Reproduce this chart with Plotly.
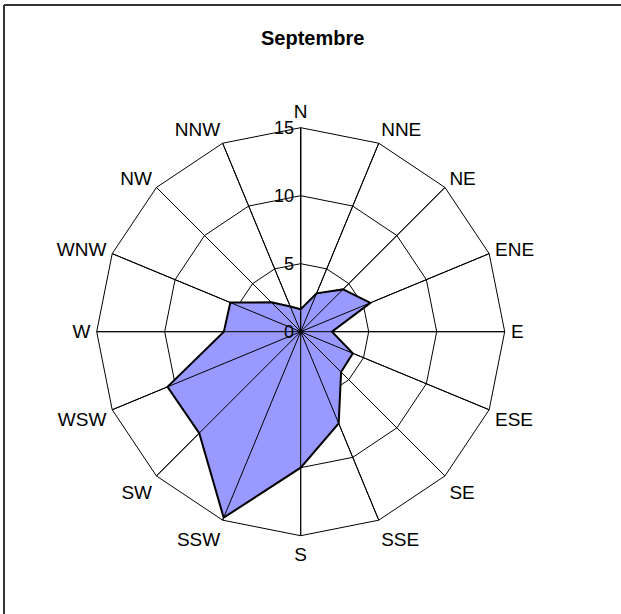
import plotly.graph_objects as go

directions = ["N", "NNE", "NE", "ENE", "E", "ESE", "SE", "SSE",
              "S", "SSW", "SW", "WSW", "W", "WNW", "NW", "NNW"]
frequencies = [1.65, 3.05, 4.4, 5.55, 2.3, 4.15, 4.2, 7.3,
               10.0, 14.8, 10.55, 10.6, 5.65, 5.6, 3.05, 2.0]
radial_ticks = [0, 5, 10, 15]
title_text = "Septembre"

W, H = 621, 614
cx, cy, R = 300.7, 331.7, 204
r_max = radial_ticks[-1]

fig = go.Figure()
fig.add_trace(go.Scatterpolar(
    r=frequencies + frequencies[:1],
    theta=directions + directions[:1],
    mode="lines",
    fill="toself",
    fillcolor="#9999FF",
    line=dict(color="black", width=2),
    hoverinfo="skip",
))

# spokes drawn above the filled area, as in the original
spoke_r, spoke_t = [], []
for d in directions:
    spoke_r += [0, r_max, None]
    spoke_t += [d, d, None]
fig.add_trace(go.Scatterpolar(
    r=spoke_r, theta=spoke_t, mode="lines",
    line=dict(color="black", width=1),
    hoverinfo="skip", connectgaps=False,
))

font_family = "Liberation Sans, Arial, sans-serif"
fig.update_layout(
    width=W, height=H,
    margin=dict(l=0, r=0, t=0, b=0),
    paper_bgcolor="white",
    plot_bgcolor="white",
    showlegend=False,
    font=dict(family=font_family, size=19, color="black"),
    polar=dict(
        domain=dict(x=[(cx - R) / W, (cx + R) / W],
                    y=[1 - (cy + R) / H, 1 - (cy - R) / H]),
        bgcolor="white",
        gridshape="linear",
        angularaxis=dict(
            direction="clockwise",
            rotation=90,
            categoryorder="array",
            categoryarray=directions,
            showline=True,
            linecolor="black",
            linewidth=1,
            gridcolor="black",
            gridwidth=1,
            ticks="outside",
            ticklen=2,
            tickcolor="rgba(0,0,0,0)",
            tickfont=dict(size=19),
        ),
        radialaxis=dict(
            range=[0, r_max],
            tickvals=radial_ticks,
            angle=90,
            side="counterclockwise",
            tickangle=90,
            ticksuffix="\u00a0\u00a0",
            showline=True,
            linecolor="black",
            linewidth=1,
            gridcolor="black",
            gridwidth=1,
            ticks="",
            tickfont=dict(size=18),
        ),
    ),
    annotations=[dict(
        text="<b>" + title_text + "</b>",
        x=312.5 / W, y=1 - 38 / H, xref="paper", yref="paper",
        xanchor="center", yanchor="middle", showarrow=False,
        font=dict(size=20, family=font_family),
    )],
    shapes=[
        dict(type="line", xref="paper", yref="paper",
             x0=4 / W, x1=1.02, y0=1 - 5 / H, y1=1 - 5 / H,
             line=dict(color="#333333", width=2)),
        dict(type="line", xref="paper", yref="paper",
             x0=4 / W, x1=4 / W, y0=1 - 5 / H, y1=-0.02,
             line=dict(color="#333333", width=2)),
    ],
)

fig.write_html(
    "out.html",
    config={"displayModeBar": False},
    post_script="document.body.style.margin='0';document.body.style.overflow='hidden';",
)
